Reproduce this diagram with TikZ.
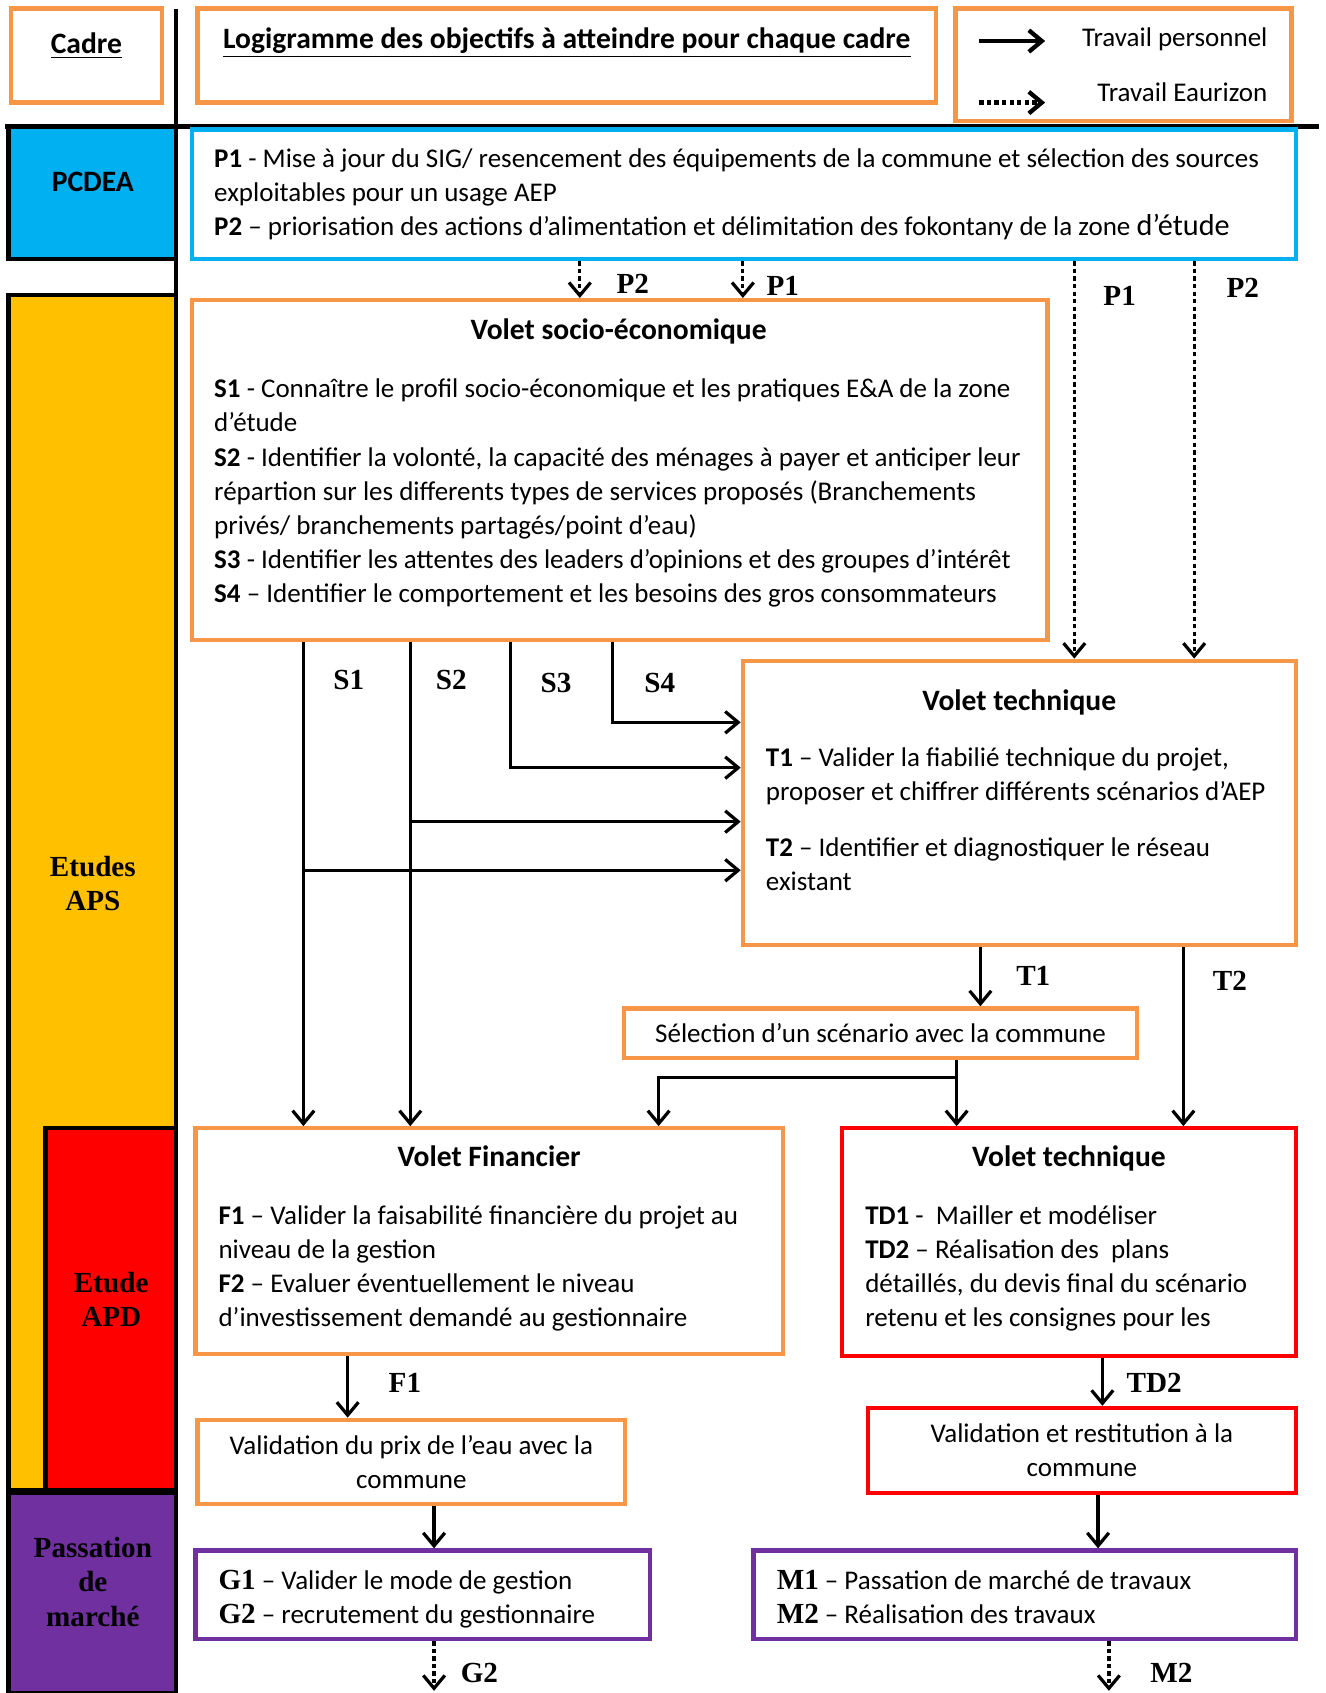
\documentclass[tikz,border=0pt]{standalone}
\usepackage{fontspec}
\setmainfont{Carlito}
\newfontfamily\tnr{Liberation Serif}
\usetikzlibrary{arrows.meta}

\definecolor{boxorange}{RGB}{247,150,70}
\definecolor{boxcyan}{RGB}{0,176,240}
\definecolor{bandyellow}{RGB}{255,192,0}
\definecolor{bandred}{RGB}{255,0,0}
\definecolor{bandpurple}{RGB}{112,48,160}

\newcommand{\repere}[1]{{\tnr\bfseries\fontsize{13.5}{15.8}\selectfont #1}}

\begin{document}
\begin{tikzpicture}[x=0.5pt, y=-0.5pt,
    every node/.style={inner sep=0pt},
    obox/.style={draw=boxorange, line width=2pt},
    cbox/.style={draw=boxcyan, line width=2pt},
    rbox/.style={draw=bandred, line width=2pt},
    pbox/.style={draw=bandpurple, line width=2pt},
    band/.style={draw=black, line width=2pt},
    bandtxt/.style={font=\tnr\bfseries\fontsize{13.5}{15.8}\selectfont, align=center, anchor=base},
    body/.style={font=\fontsize{12.5}{15.8}\selectfont, align=left, anchor=base west},
    head/.style={font=\bfseries\fontsize{13.7}{16}\selectfont, anchor=base},
    lab/.style={font=\tnr\bfseries\fontsize{13.5}{16}\selectfont},
    arr/.style={-{Straight Barb[length=6pt,width=10pt]}, line width=1.5pt},
    darr/.style={arr, dash pattern=on 2pt off 1.5pt}]
\useasboundingbox (0,0) rectangle (1228,1568);

% colonne des cadres
\filldraw[band, fill=boxcyan] (8,117) rectangle (163,240);
\filldraw[band, fill=bandyellow] (8,273) rectangle (163,1380);
\filldraw[band, fill=bandred] (42,1045) rectangle (163,1380);
\filldraw[band, fill=bandpurple] (8,1383) rectangle (163,1568);
\draw[line width=2pt] (163,8) -- (163,1568);
\draw[line width=2.5pt] (5,117) -- (1222,117);
\node[head] (pcdea-t) at (86,177) {PCDEA};
\node[bandtxt] (aps-t) at (86,843) {Etudes\\APS};
\node[bandtxt] (apd-t) at (103,1229) {Etude\\APD};
\node[bandtxt] (pass-t) at (86,1506) {Passation\\de\\marché};

% en-tete
\node[obox, minimum width=70pt, minimum height=43.5pt] (cadre) at (80,51.5) {};
\node[head] (cadre-t) at (80,50) {\underline{Cadre}};
\node[obox, minimum width=342pt, minimum height=43.5pt] (titre) at (525,51.5) {};
\node[head] (titre-t) at (525,45) {\underline{Logigramme des objectifs à atteindre pour chaque cadre}};
\node[obox, minimum width=155.5pt, minimum height=52pt] (legende) at (1040.5,60) {};
\coordinate (leg1a) at (907,38); \coordinate (leg1b) at (968,38);
\coordinate (leg2a) at (907,95); \coordinate (leg2b) at (968,95);
\draw[arr, line width=2pt] (leg1a) -- (leg1b);
\draw[darr, line width=2pt] (leg2a) -- (leg2b);
\node[body, anchor=base] (leg1) at (1088,43) {Travail personnel};
\node[body, anchor=base] (leg2) at (1095,94) {Travail Eaurizon};

% PCDEA
\node[cbox, minimum width=511pt, minimum height=60pt] (pcdea) at (689,180) {};
\node[body] (pcdea-txt) at (198,218) {\textbf{P1} - Mise à jour du SIG/ resencement des équipements de la commune et sélection des sources\\
exploitables pour un usage AEP\\
\textbf{P2} – priorisation des actions d’alimentation et délimitation des fokontany de la zone {\fontsize{14}{15.8}\selectfont d’étude}};

% volet socio-economique
\node[obox, minimum width=396pt, minimum height=157.5pt] (socio) at (574,435.5) {};
\node[head] (socio-t) at (573,314) {Volet socio-économique};
\node[body] (socio-txt) at (198,558) {\textbf{S1} - Connaître le profil socio-économique et les pratiques E\&A de la zone\\
d’étude\\
\textbf{S2} - Identifier la volonté, la capacité des ménages à payer et anticiper leur\\
répartion sur les differents types de services proposés (Branchements\\
privés/ branchements partagés/point d’eau)\\
\textbf{S3} - Identifier les attentes des leaders d’opinions et des groupes d’intérêt\\
\textbf{S4} – Identifier le comportement et les besoins des gros consommateurs};

% volet technique (APS)
\node[obox, minimum width=256pt, minimum height=131.5pt] (tech) at (944,743.5) {};
\node[head] (tech-t) at (944,658) {Volet technique};
\node[body] (tech-txt) at (709,825) {\textbf{T1} – Valider la fiabilié technique du projet,\\
proposer et chiffrer différents scénarios d’AEP\\[10pt]
\textbf{T2} – Identifier et diagnostiquer le réseau\\
existant};

\node[obox, minimum width=237.5pt, minimum height=23pt, font=\fontsize{12.5}{15.8}\selectfont] (sel) at (815.5,957) {Sélection d’un scénario avec la commune};

% volet financier
\node[obox, minimum width=272pt, minimum height=104.5pt] (fin) at (453,1149.5) {};
\node[head] (fin-t) at (453,1080) {Volet Financier};
\node[body] (fin-txt) at (202,1229) {\textbf{F1} – Valider la faisabilité financière du projet au\\
niveau de la gestion\\
\textbf{F2} – Evaluer éventuellement le niveau\\
d’investissement demandé au gestionnaire};

% volet technique (APD)
\node[rbox, minimum width=210pt, minimum height=105.5pt] (tdet) at (990,1150.5) {};
\node[head] (tdet-t) at (990,1080) {Volet technique};
\node[body] (tdet-txt) at (801,1229) {\textbf{TD1} -\ \ Mailler et modéliser\\
\textbf{TD2} – Réalisation des\ \ plans\\
détaillés, du devis final du scénario\\
retenu et les consignes pour les};

\node[obox, minimum width=198pt, minimum height=39pt, align=center, font=\fontsize{12.5}{15.8}\selectfont] (prix) at (381,1354) {Validation du prix de l’eau avec la\\commune};
\node[rbox, minimum width=198pt, minimum height=39.5pt, align=center, font=\fontsize{12.5}{15.8}\selectfont] (rest) at (1002,1343.5) {Validation et restitution à la\\commune};

% passation de marche
\node[pbox, minimum width=210.5pt, minimum height=41pt] (gest) at (391.5,1477) {};
\node[body] (gest-txt) at (202,1504) {\repere{G1} – Valider le mode de gestion\\
\repere{G2} – recrutement du gestionnaire};
\node[pbox, minimum width=251pt, minimum height=41pt] (marche) at (949,1477) {};
\node[body] (marche-txt) at (719,1504) {\repere{M1} – Passation de marché de travaux\\
\repere{M2} – Réalisation des travaux};

% travail Eaurizon depuis le PCDEA
\draw[darr] (pcdea.south -| 537,0) -- (socio.north -| 537,0);
\draw[darr] (pcdea.south -| 688,0) -- (socio.north -| 688,0);
\draw[darr] (pcdea.south -| 995,0) -- (tech.north -| 995,0);
\draw[darr] (pcdea.south -| 1106,0) -- (tech.north -| 1106,0);
\node[lab] (lp2a) at (586,263) {P2};
\node[lab] (lp1a) at (725,265) {P1};
\node[lab] (lp1b) at (1037,274) {P1};
\node[lab] (lp2b) at (1151,267) {P2};

% sorties du volet socio-economique
\coordinate (s1b) at (281,806);
\coordinate (s2b) at (380,761);
\draw[arr] (socio.south -| s1b) -- (fin.north -| s1b);
\draw[arr] (socio.south -| s2b) -- (fin.north -| s2b);
\draw[arr] (s1b) -- (s1b -| tech.west);
\draw[arr] (s2b) -- (s2b -| tech.west);
\draw[arr] (socio.south -| 473,0) |- (tech.west |- 0,711);
\draw[arr] (socio.south -| 567,0) |- (tech.west |- 0,669);
\node[lab] (ls1) at (323,630) {S1};
\node[lab] (ls2) at (418,630) {S2};
\node[lab] (ls3) at (515,633) {S3};
\node[lab] (ls4) at (611,633) {S4};

% sorties du volet technique
\draw[arr] (tech.south -| 908,0) -- (sel.north -| 908,0);
\draw[arr] (tech.south -| 1096,0) -- (tdet.north -| 1096,0);
\node[lab] (lt1) at (957,904) {T1};
\node[lab] (lt2) at (1139,908) {T2};
\coordinate (selb) at (886,998);
\draw[arr] (sel.south -| selb) -- (tdet.north -| selb);
\draw[arr] (selb) -| (fin.north -| 610,0);

% APD vers passation
\draw[arr] (fin.south -| 322,0) -- (prix.north -| 322,0);
\node[lab] (lf1) at (375,1281) {F1};
\draw[arr] (prix.south -| 402,0) -- (gest.north -| 402,0);
\draw[arr] (tdet.south -| 1021,0) -- (rest.north -| 1021,0);
\node[lab] (ltd2) at (1069,1281) {TD2};
\draw[arr] (rest.south -| 1017,0) -- (marche.north -| 1017,0);
\coordinate (gfin) at (402,1566);
\coordinate (mfin) at (1027,1566);
\draw[darr] (gest.south -| gfin) -- (gfin);
\draw[darr] (marche.south -| mfin) -- (mfin);
\node[lab] (lg2) at (444,1549) {G2};
\node[lab] (lm2) at (1085,1549) {M2};
\end{tikzpicture}
\end{document}
